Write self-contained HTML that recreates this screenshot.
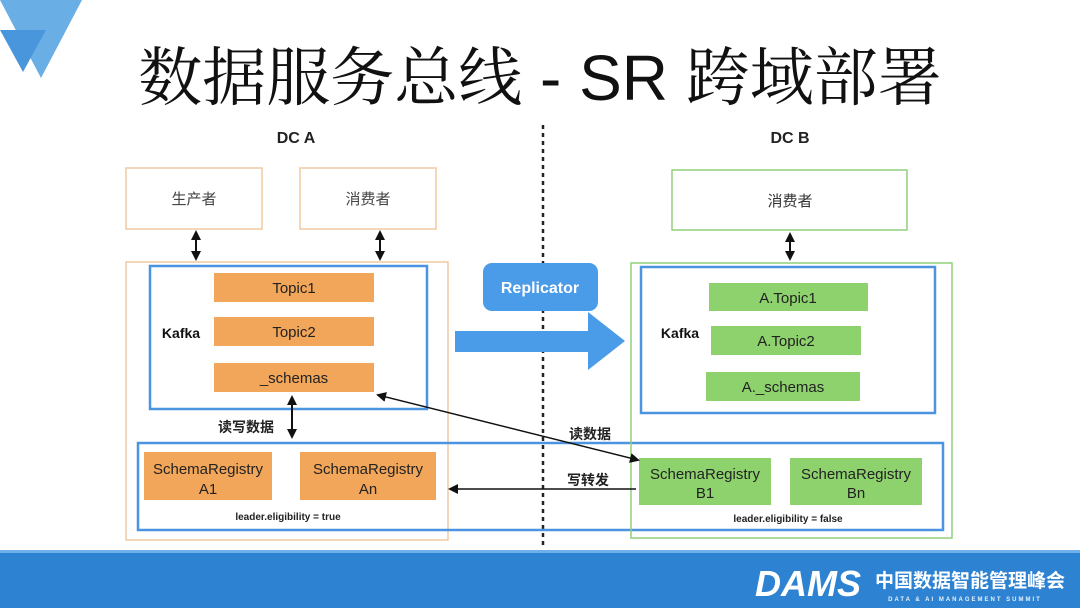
<!DOCTYPE html>
<html><head><meta charset="utf-8"><style>
html,body{margin:0;padding:0;background:#fff;width:1080px;height:608px;overflow:hidden}
svg text{font-family:"Liberation Sans","Noto Sans CJK SC",sans-serif}
</style></head><body>
<svg width="1080" height="608" viewBox="0 0 1080 608" xmlns="http://www.w3.org/2000/svg">
<defs>
<marker id="ah" markerWidth="10" markerHeight="10" refX="8" refY="5" orient="auto-start-reverse" markerUnits="userSpaceOnUse"><path d="M0,0 L10,5 L0,10 z" fill="#111"/></marker>
</defs>
<polygon points="0,0 82,0 41,78" fill="#6aaee6"/>
<polygon points="0,30 46,30 23,72" fill="#4a96dc"/>
<text x="540" y="100" text-anchor="middle" font-size="64" style="font-family:'Noto Serif CJK SC','Liberation Serif',serif" fill="#111">数据服务总线<tspan style="font-family:'Liberation Sans',sans-serif"> - SR </tspan>跨域部署</text>
<text x="296" y="143" text-anchor="middle" font-size="16" font-weight="bold" fill="#222">DC A</text>
<text x="790" y="143" text-anchor="middle" font-size="16" font-weight="bold" fill="#222">DC B</text>
<line x1="543" y1="125" x2="543" y2="548" stroke="#222" stroke-width="2.5" stroke-dasharray="4,4"/>
<rect x="126" y="168" width="136" height="61" fill="#fff" stroke="#f0c9a0" stroke-width="1.5"/>
<text x="194" y="204" text-anchor="middle" font-size="15" fill="#444">生产者</text>
<rect x="300" y="168" width="136" height="61" fill="#fff" stroke="#f0c9a0" stroke-width="1.5"/>
<text x="368" y="204" text-anchor="middle" font-size="15" fill="#444">消费者</text>
<line x1="196" y1="232" x2="196" y2="259" stroke="#111" stroke-width="2" marker-start="url(#ah)" marker-end="url(#ah)"/>
<line x1="380" y1="232" x2="380" y2="259" stroke="#111" stroke-width="2" marker-start="url(#ah)" marker-end="url(#ah)"/>
<rect x="126" y="262" width="322" height="278" fill="none" stroke="#f0c9a0" stroke-width="1.5"/>
<rect x="150" y="266" width="277" height="143" fill="none" stroke="#4d94e0" stroke-width="2.5"/>
<text x="181" y="338" text-anchor="middle" font-size="14" font-weight="bold" fill="#111">Kafka</text>
<rect x="214" y="273" width="160" height="29" fill="#f2a65a"/>
<text x="294" y="293" text-anchor="middle" font-size="15" fill="#222">Topic1</text>
<rect x="214" y="317" width="160" height="29" fill="#f2a65a"/>
<text x="294" y="337" text-anchor="middle" font-size="15" fill="#222">Topic2</text>
<rect x="214" y="363" width="160" height="29" fill="#f2a65a"/>
<text x="294" y="383" text-anchor="middle" font-size="15" fill="#222">_schemas</text>
<line x1="292" y1="397" x2="292" y2="437" stroke="#111" stroke-width="2" marker-start="url(#ah)" marker-end="url(#ah)"/>
<text x="246" y="432" text-anchor="middle" font-size="14" font-weight="bold" fill="#222">读写数据</text>
<rect x="138" y="443" width="805" height="87" fill="none" stroke="#4d94e0" stroke-width="2.5"/>
<rect x="144" y="452" width="128" height="48" fill="#f2a65a"/>
<text x="208" y="474" text-anchor="middle" font-size="15" fill="#222">SchemaRegistry</text>
<text x="208" y="494" text-anchor="middle" font-size="15" fill="#222">A1</text>
<rect x="300" y="452" width="136" height="48" fill="#f2a65a"/>
<text x="368" y="474" text-anchor="middle" font-size="15" fill="#222">SchemaRegistry</text>
<text x="368" y="494" text-anchor="middle" font-size="15" fill="#222">An</text>
<text x="288" y="520" text-anchor="middle" font-size="10" font-weight="bold" fill="#222">leader.eligibility = true</text>
<rect x="483" y="263" width="115" height="48" rx="9" fill="#4a9be8"/>
<text x="540" y="293" text-anchor="middle" font-size="16" font-weight="bold" fill="#fff">Replicator</text>
<polygon points="455,331 588,331 588,312 625,341 588,370 588,352 455,352" fill="#4a9be8"/>
<rect x="672" y="170" width="235" height="60" fill="#fff" stroke="#8fd17a" stroke-width="1.5"/>
<text x="790" y="206" text-anchor="middle" font-size="15" fill="#333">消费者</text>
<line x1="790" y1="234" x2="790" y2="259" stroke="#111" stroke-width="2" marker-start="url(#ah)" marker-end="url(#ah)"/>
<rect x="631" y="263" width="321" height="275" fill="none" stroke="#8fd17a" stroke-width="1.5"/>
<rect x="641" y="267" width="294" height="146" fill="none" stroke="#4d94e0" stroke-width="2.5"/>
<text x="680" y="338" text-anchor="middle" font-size="14" font-weight="bold" fill="#111">Kafka</text>
<rect x="709" y="283" width="159" height="28" fill="#8ed26d"/>
<text x="788" y="303" text-anchor="middle" font-size="15" fill="#222">A.Topic1</text>
<rect x="711" y="326" width="150" height="29" fill="#8ed26d"/>
<text x="786" y="346" text-anchor="middle" font-size="15" fill="#222">A.Topic2</text>
<rect x="706" y="372" width="154" height="29" fill="#8ed26d"/>
<text x="783" y="392" text-anchor="middle" font-size="15" fill="#222">A._schemas</text>
<rect x="639" y="458" width="132" height="47" fill="#8ed26d"/>
<text x="705" y="479" text-anchor="middle" font-size="15" fill="#222">SchemaRegistry</text>
<text x="705" y="498" text-anchor="middle" font-size="15" fill="#222">B1</text>
<rect x="790" y="458" width="132" height="47" fill="#8ed26d"/>
<text x="856" y="479" text-anchor="middle" font-size="15" fill="#222">SchemaRegistry</text>
<text x="856" y="498" text-anchor="middle" font-size="15" fill="#222">Bn</text>
<text x="788" y="522" text-anchor="middle" font-size="10" font-weight="bold" fill="#222">leader.eligibility = false</text>
<line x1="378" y1="395" x2="638" y2="460" stroke="#111" stroke-width="1.5" marker-start="url(#ah)" marker-end="url(#ah)"/>
<text x="590" y="439" text-anchor="middle" font-size="14" font-weight="bold" fill="#222">读数据</text>
<line x1="636" y1="489" x2="450" y2="489" stroke="#111" stroke-width="1.5" marker-end="url(#ah)"/>
<text x="588" y="485" text-anchor="middle" font-size="14" font-weight="bold" fill="#222">写转发</text>
<rect x="0" y="550" width="1080" height="58" fill="#2d82d2"/>
<rect x="0" y="550" width="1080" height="3" fill="#6fb0ea"/>
<text x="808" y="596" text-anchor="middle" font-size="36" font-weight="bold" font-style="italic" fill="#fff">DAMS</text>
<text x="970" y="587" text-anchor="middle" font-size="19" font-weight="bold" fill="#fff">中国数据智能管理峰会</text>
<text x="965" y="601" text-anchor="middle" font-size="6" font-weight="bold" fill="#e8f2fc" letter-spacing="2">DATA &amp; AI MANAGEMENT SUMMIT</text>
</svg>
</body></html>
